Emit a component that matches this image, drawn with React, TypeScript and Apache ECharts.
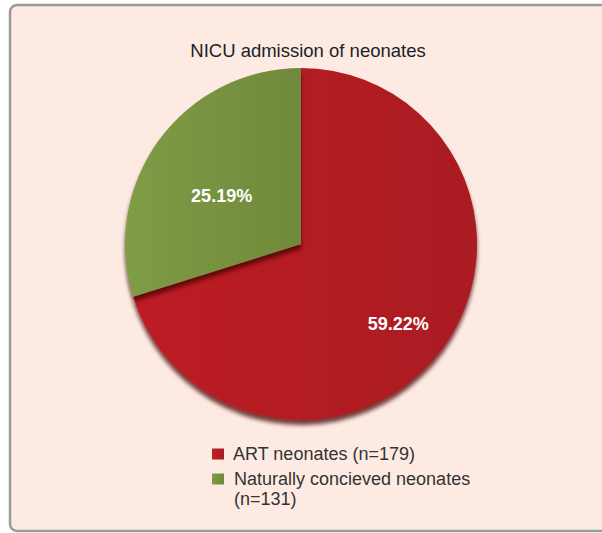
import React, { useEffect, useRef } from "react";
import * as echarts from "echarts";

const titleText = "NICU admission of neonates";
const categories = ["ART neonates (n=179)", "Naturally concieved neonates (n=131)"];
const legendLabels = [" ART neonates (n=179)", " \n Naturally concieved neonates\n (n=131)"];
const values = [59.22, 25.19];
const colors = [
  ["#bd1e25", "#a91b21"],
  ["#809c46", "#70893b"],
];

export default function App() {
  const ref = useRef<HTMLDivElement>(null);
  useEffect(() => {
    if (!ref.current) return;
    const chart = echarts.init(ref.current, null, { renderer: "svg" });
    const font = "'Liberation Sans', Arial, sans-serif";
    chart.setOption({
      animation: false,
      backgroundColor: "#ffffff",
      graphic: [
        {
          type: "rect",
          z: -10,
          shape: { x: 10, y: 5, width: 600, height: 526, r: 7 },
          style: { fill: "#fdebe3", stroke: "#9b9b9b", lineWidth: 2.5 },
        },
      ],
      title: {
        text: titleText,
        left: 303,
        textAlign: "center",
        top: 36,
        textStyle: { fontFamily: font, fontSize: 18.5, fontWeight: "normal", color: "#222" },
      },
      legend: {
        orient: "vertical",
        left: 207,
        top: 439,
        height: 150,
        itemWidth: 12,
        itemHeight: 11,
        itemGap: -15,
        icon: "rect",
        formatter: (name: string) => legendLabels[categories.indexOf(name)],
        data: categories,
        textStyle: { fontFamily: font, fontSize: 18, color: "#333", lineHeight: 20 },
      },
      series: [
        {
          type: "pie",
          center: [301, 244],
          radius: 176,
          startAngle: 90,
          clockwise: true,
          label: {
            show: true,
            position: "inside",
            formatter: (p: any) => p.value.toFixed(2) + "%",
            color: "#ffffff",
            fontFamily: font,
            fontSize: 18,
            fontWeight: "bold",
          },
          labelLine: { show: false },
          emphasis: { disabled: true },
          data: categories.map((name, i) => ({
            name,
            value: values[i],
            label: i === 0 ? { offset: [24, 26] } : { offset: [-6, 6] },
            itemStyle: {
              color: new echarts.graphic.LinearGradient(0, 0, 1, 0, [
                { offset: 0, color: colors[i][0] },
                { offset: 1, color: colors[i][1] },
              ]),
              shadowColor: "rgba(70,0,0,0.75)",
              shadowBlur: 4,
              shadowOffsetY: 5,
              borderWidth: 0,
            },
          })),
        },
      ],
    });
    return () => chart.dispose();
  }, []);
  return (
    <div
      ref={ref}
      style={{ position: "fixed", left: 0, top: 0, width: 602, height: 533 }}
    />
  );
}
